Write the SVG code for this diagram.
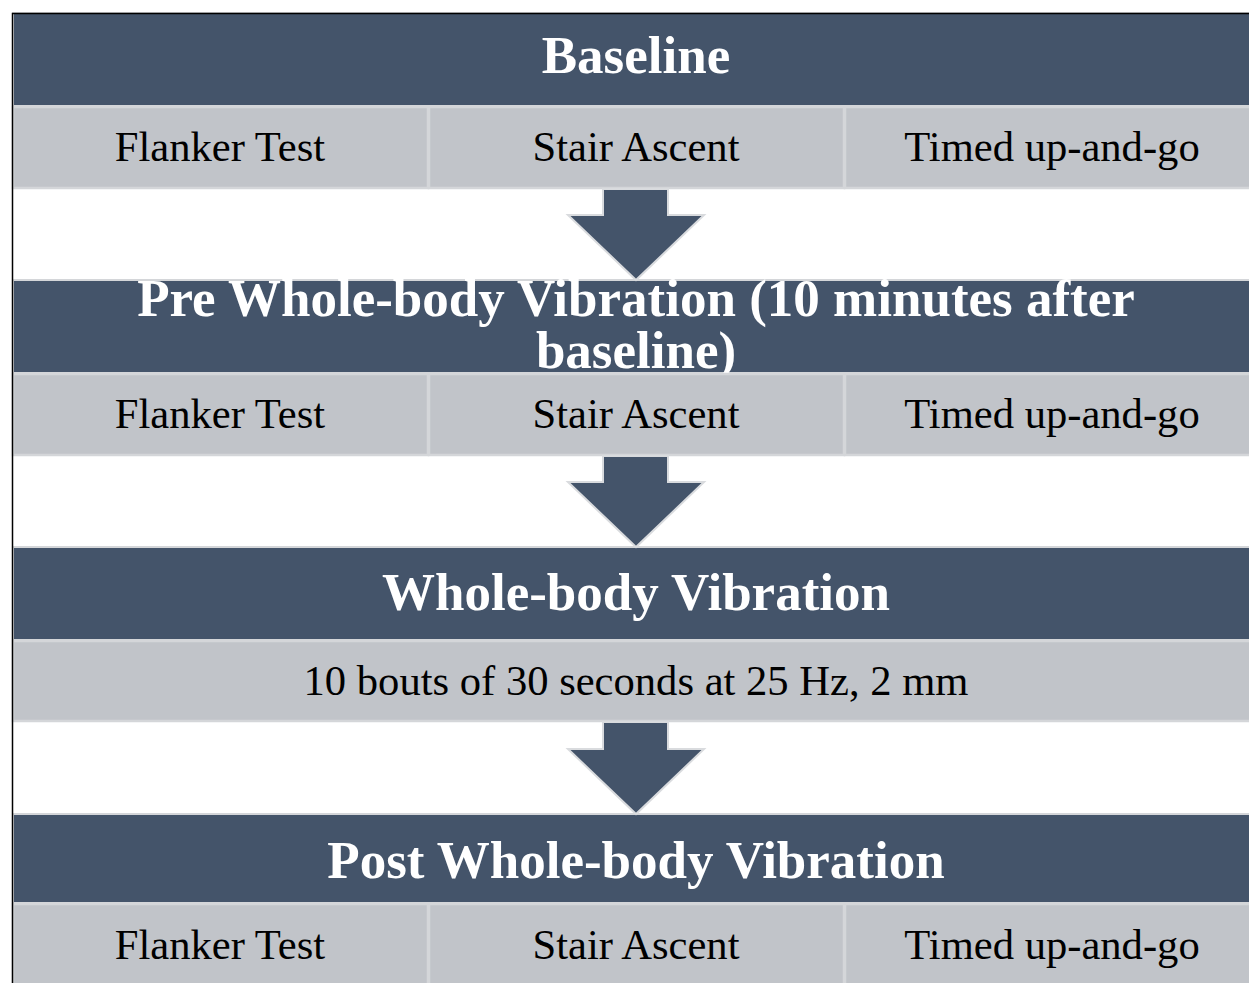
<svg xmlns="http://www.w3.org/2000/svg" width="1249" height="983" viewBox="0 0 1249 983">
<style>
.hdr{fill:#44546a;stroke:#d4d6d9;stroke-width:2}
.cell{fill:#c1c4c9;stroke:#d4d6d9;stroke-width:2.5}
.ht{font-family:"Liberation Serif",serif;font-weight:bold;font-size:53px;fill:#ffffff;text-anchor:middle}
.ct{font-family:"Liberation Serif",serif;font-size:42.6px;fill:#000000;text-anchor:middle}
.arr{fill:#44546a;stroke:#d9dbde;stroke-width:2}
</style>
<rect x="0" y="0" width="1249" height="983" fill="#ffffff"/>
<g id="baseline">
<rect class="hdr" x="13" y="13" width="1250" height="93"/>
<text class="ht" x="636" y="73">Baseline</text>
<rect class="cell" x="13" y="107" width="415" height="81"/>
<rect class="cell" x="429" y="107" width="415" height="81"/>
<rect class="cell" x="845" y="107" width="415" height="81"/>
<text class="ct" x="220" y="161">Flanker Test</text>
<text class="ct" x="636" y="161">Stair Ascent</text>
<text class="ct" x="1052" y="161">Timed up-and-go</text>
</g>
<g id="pre-wbv">
<rect class="hdr" x="13" y="280" width="1250" height="93"/>
<text class="ht" x="636" y="316">Pre Whole-body Vibration (10 minutes after</text>
<text class="ht" x="636" y="368">baseline)</text>
<rect class="cell" x="13" y="374" width="415" height="81"/>
<rect class="cell" x="429" y="374" width="415" height="81"/>
<rect class="cell" x="845" y="374" width="415" height="81"/>
<text class="ct" x="220" y="428">Flanker Test</text>
<text class="ct" x="636" y="428">Stair Ascent</text>
<text class="ct" x="1052" y="428">Timed up-and-go</text>
</g>
<g id="wbv">
<rect class="hdr" x="13" y="547" width="1250" height="93"/>
<text class="ht" x="636" y="610">Whole-body Vibration</text>
<rect class="cell" x="13" y="641" width="1250" height="80"/>
<text class="ct" x="636" y="695">10 bouts of 30 seconds at 25 Hz, 2 mm</text>
</g>
<g id="post-wbv">
<rect class="hdr" x="13" y="814" width="1250" height="89"/>
<text class="ht" x="636" y="878">Post Whole-body Vibration</text>
<rect class="cell" x="13" y="904" width="415" height="85"/>
<rect class="cell" x="429" y="904" width="415" height="85"/>
<rect class="cell" x="845" y="904" width="415" height="85"/>
<text class="ct" x="220" y="959">Flanker Test</text>
<text class="ct" x="636" y="959">Stair Ascent</text>
<text class="ct" x="1052" y="959">Timed up-and-go</text>
</g>
<g id="connectors">
<path class="arr" d="M603,189 H668 V215 H704 L636,280 L568,215 H603 Z"/>
<path class="arr" d="M603,456 H668 V482 H704 L636,547 L568,482 H603 Z"/>
<path class="arr" d="M603,722 H668 V749 H704 L636,814 L568,749 H603 Z"/>
</g>
<g id="frame" fill="none" stroke="#000000" stroke-width="1.5">
<path d="M12.5,983 V13.5 H1249"/>
</g>
</svg>
